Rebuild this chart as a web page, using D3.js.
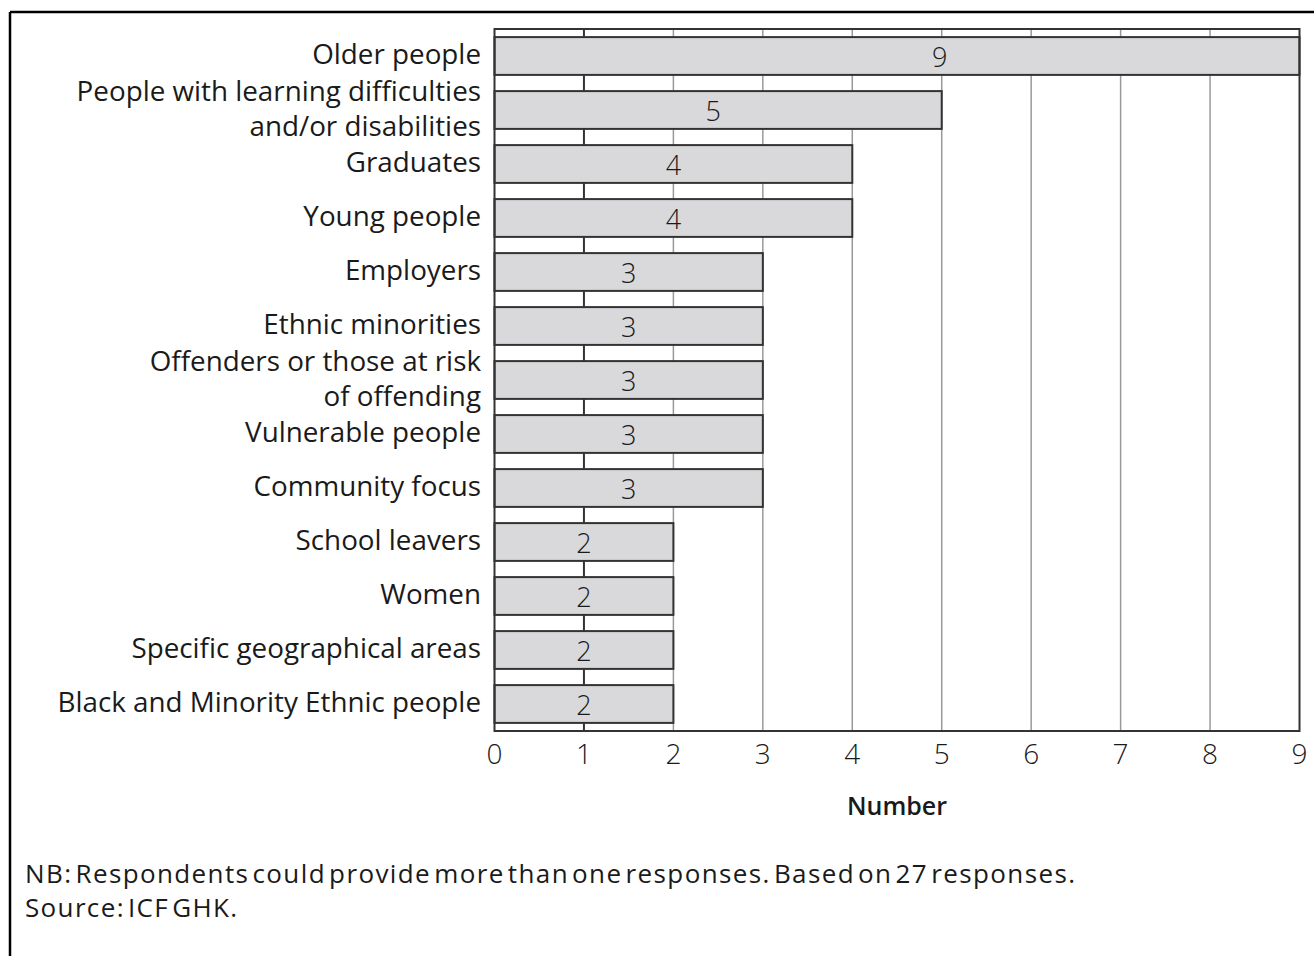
<!DOCTYPE html>
<html>
<head>
<meta charset="utf-8">
<script src="https://cdn.jsdelivr.net/npm/d3@7/dist/d3.min.js"></script>
<style>
  html, body { margin: 0; padding: 0; background: #fff; }
  svg { display: block; }
  text { font-family: "Open Sans", "Noto Sans", sans-serif; fill: #1a1a1a; font-variant-ligatures: none; }
</style>
</head>
<body>
<svg id="chart" width="1314" height="956"></svg>
<script>
// Target groups named by respondents (number of mentions)
const categories = [
  "Older people",
  "People with learning difficulties\nand/or disabilities",
  "Graduates",
  "Young people",
  "Employers",
  "Ethnic minorities",
  "Offenders or those at risk\nof offending",
  "Vulnerable people",
  "Community focus",
  "School leavers",
  "Women",
  "Specific geographical areas",
  "Black and Minority Ethnic people"
];
const counts = [9, 5, 4, 4, 3, 3, 3, 3, 3, 2, 2, 2, 2];
const xTicks = [0, 1, 2, 3, 4, 5, 6, 7, 8, 9];
const axisTitle = "Number";
const notes = [
  "NB: Respondents could provide more than one responses.  Based on 27 responses.",
  "Source: ICF GHK."
];

const svg = d3.select("#chart");
const plotLeft = 494.5, plotRight = 1299.5, plotTop = 29, plotBottom = 731;

// outer frame (top and left edges)
svg.append("line").attr("x1", 10).attr("x2", 1314).attr("y1", 12).attr("y2", 12)
  .attr("stroke", "#000").attr("stroke-width", 2.5);
svg.append("line").attr("x1", 10).attr("x2", 10).attr("y1", 12).attr("y2", 956)
  .attr("stroke", "#000").attr("stroke-width", 2.5);

const x = d3.scaleLinear().domain([0, 9]).range([plotLeft, plotRight]);
const y = d3.scaleBand().domain(categories).range([plotTop, plotBottom])
  .paddingInner(0.3).paddingOuter(0.15);

// vertical gridlines
svg.append("g").selectAll("line").data(xTicks.slice(1, -1)).join("line")
  .attr("x1", d => x(d)).attr("x2", d => x(d))
  .attr("y1", plotTop).attr("y2", plotBottom)
  .attr("stroke", d => d === 1 ? "#333" : "#999")
  .attr("stroke-width", d => d === 1 ? 2 : 1.5);

// bars
svg.append("g").selectAll("rect").data(categories).join("rect")
  .attr("x", x(0))
  .attr("y", d => y(d))
  .attr("width", (d, i) => x(counts[i]) - x(0))
  .attr("height", y.bandwidth())
  .attr("fill", "#d9d9db")
  .attr("stroke", "#333")
  .attr("stroke-width", 2);

// value labels: centred on the bar, long bars keep theirs near the 5 gridline
svg.append("g").selectAll("text").data(categories).join("text")
  .attr("x", (d, i) => counts[i] > 5 ? x(5) - 2 : (x(0) + x(counts[i])) / 2 - (counts[i] === 5 ? 5 : 0))
  .attr("y", d => y(d) + y.bandwidth() / 2)
  .attr("text-anchor", "middle")
  .attr("dominant-baseline", "central")
  .attr("font-size", 27)
  .attr("font-weight", 300)
  .text((d, i) => counts[i]);

// plot frame
svg.append("rect").attr("x", plotLeft).attr("y", plotTop)
  .attr("width", plotRight - plotLeft).attr("height", plotBottom - plotTop)
  .attr("fill", "none").attr("stroke", "#333").attr("stroke-width", 2);

// category labels
const cat = svg.append("g").selectAll("text").data(categories).join("text")
  .attr("text-anchor", "end")
  .attr("font-size", 27.8);
cat.each(function(d) {
  const lines = d.split("\n");
  const cy = y(d) + y.bandwidth() / 2 - 3;
  const lh = 35;
  d3.select(this).selectAll("tspan").data(lines).join("tspan")
    .attr("x", 481)
    .attr("y", (l, j) => cy + (j - (lines.length - 1) / 2) * lh)
    .attr("dominant-baseline", "central")
    .text(l => l);
});

// x axis tick labels
svg.append("g").selectAll("text").data(xTicks).join("text")
  .attr("x", d => x(d))
  .attr("y", 753)
  .attr("text-anchor", "middle")
  .attr("dominant-baseline", "central")
  .attr("font-size", 28)
  .attr("font-weight", 300)
  .text(d => d);

svg.append("text")
  .attr("x", (plotLeft + plotRight) / 2).attr("y", 805)
  .attr("text-anchor", "middle").attr("dominant-baseline", "central")
  .attr("font-size", 25).attr("font-weight", 600)
  .text(axisTitle);

// notes
const noteWidths = [1050, 212];
svg.append("g").selectAll("text").data(notes).join("text")
  .attr("x", 25)
  .attr("y", (d, i) => 873 + i * 34)
  .attr("dominant-baseline", "central")
  .attr("font-size", 26)
  .attr("word-spacing", -5)
  .attr("textLength", (d, i) => noteWidths[i])
  .attr("lengthAdjust", "spacing")
  .text(d => d);
</script>
</body>
</html>
